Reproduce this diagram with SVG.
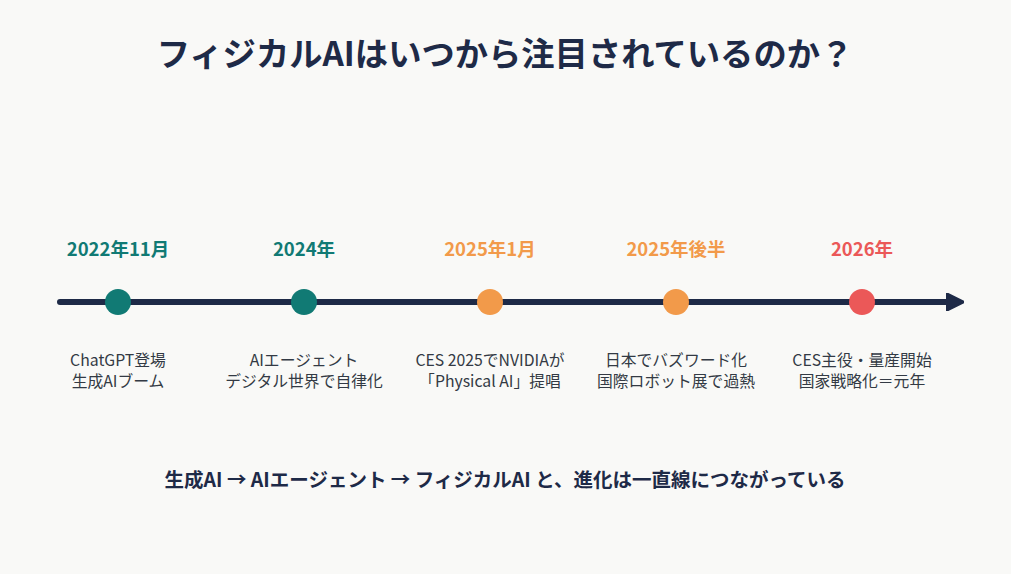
<svg xmlns="http://www.w3.org/2000/svg" width="1011" height="574" viewBox="0 0 1011 574">
<defs>
<style>
text{font-family:"Noto Sans CJK JP","Noto Sans",sans-serif;text-anchor:middle}
.title{font-size:33.3px;font-weight:700;fill:#1e2a47}
.yr{font-size:18.5px;font-weight:700}
.desc{font-size:15.8px;fill:#333a44}
.foot{font-size:19.5px;font-weight:700;fill:#1e2a47}
.teal{fill:#117a74}.orange{fill:#f29a4a}.red{fill:#eb5858}
</style>
<marker id="ah" viewBox="0 0 10 10" refX="2" refY="5" markerWidth="3" markerHeight="3" orient="auto" markerUnits="strokeWidth">
<path d="M0,0 L10,5 L0,10 Z" fill="#1e2a47" stroke="#1e2a47" stroke-width="1" stroke-linejoin="round"/>
</marker>
</defs>
<rect width="1011" height="574" fill="#f9f9f7"/>
<text class="title" x="505" y="66">フィジカルAIはいつから注目されているのか？</text>
<g id="connectors">
<line x1="60" y1="302" x2="950" y2="302" stroke="#1e2a47" stroke-width="6" stroke-linecap="round" marker-end="url(#ah)"/>
</g>
<g id="n2022">
<text class="yr teal" x="118" y="256">2022年11月</text>
<circle cx="118" cy="302" r="13" class="teal"/>
<text class="desc" x="118" y="366">ChatGPT登場</text>
<text class="desc" x="118" y="387">生成AIブーム</text>
</g>
<g id="n2024">
<text class="yr teal" x="304" y="256">2024年</text>
<circle cx="304" cy="302" r="13" class="teal"/>
<text class="desc" x="304" y="366">AIエージェント</text>
<text class="desc" x="304" y="387">デジタル世界で自律化</text>
</g>
<g id="n2025a">
<text class="yr orange" x="490" y="256">2025年1月</text>
<circle cx="490" cy="302" r="13" class="orange"/>
<text class="desc" x="490" y="366">CES 2025でNVIDIAが</text>
<text class="desc" x="490" y="387">「Physical AI」提唱</text>
</g>
<g id="n2025b">
<text class="yr orange" x="676" y="256">2025年後半</text>
<circle cx="676" cy="302" r="13" class="orange"/>
<text class="desc" x="676" y="366">日本でバズワード化</text>
<text class="desc" x="676" y="387">国際ロボット展で過熱</text>
</g>
<g id="n2026">
<text class="yr red" x="862" y="256">2026年</text>
<circle cx="862" cy="302" r="13" class="red"/>
<text class="desc" x="862" y="366">CES主役・量産開始</text>
<text class="desc" x="862" y="387">国家戦略化＝元年</text>
</g>
<text class="foot" x="505" y="487">生成AI → AIエージェント → フィジカルAI と、進化は一直線につながっている</text>
</svg>
